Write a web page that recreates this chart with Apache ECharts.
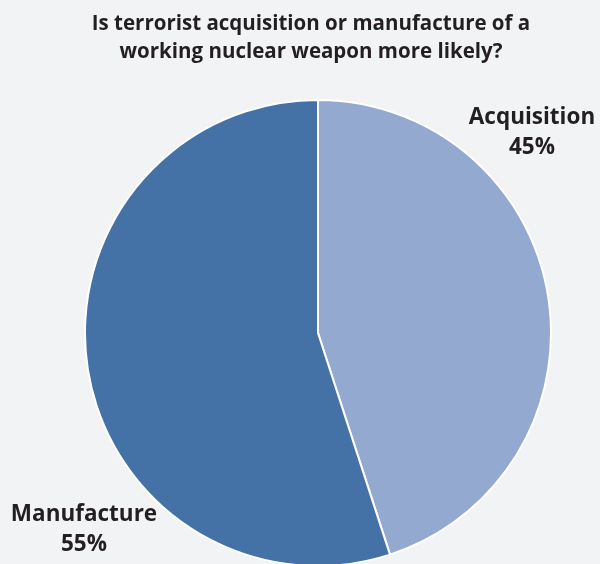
<!DOCTYPE html>
<html><head><meta charset="utf-8">
<script src="https://cdn.jsdelivr.net/npm/echarts@6/dist/echarts.min.js"></script>
<style>html,body{margin:0;padding:0;background:#f2f3f5}#c{width:600px;height:564px}</style>
</head><body><div id="c"></div>
<script>
const titleText = "Is terrorist acquisition or manufacture of a\nworking nuclear weapon more likely?";
const categories = ["Acquisition", "Manufacture"];
const values = [45, 55];
const colors = ["#94a9d0", "#4472a6"];
const labelPos = [[532, 133], [84, 530]];

const chart = echarts.init(document.getElementById('c'));
chart.setOption({
  backgroundColor: '#f2f3f5',
  animation: false,
  title: {
    text: titleText, left: 306, top: 5, textAlign: 'center',
    textStyle: { fontFamily: 'Open Sans', fontWeight: 'bold', fontSize: 20.5, lineHeight: 28, color: '#231f20' }
  },
  series: [{
    type: 'pie',
    center: [318, 333],
    radius: 233,
    startAngle: 90,
    clockwise: true,
    itemStyle: { borderColor: '#ffffff', borderWidth: 2 },
    label: {
      show: true, position: 'inside', overflow: 'none',
      formatter: p => p.name + '\n' + p.value + '%',
      fontFamily: 'Open Sans', fontWeight: 'bold', fontSize: 22.5, lineHeight: 30,
      color: '#231f20', align: 'center'
    },
    labelLine: { show: false },
    labelLayout: p => ({ x: labelPos[p.dataIndex][0], y: labelPos[p.dataIndex][1], align: 'center', verticalAlign: 'middle' }),
    data: categories.map((c, i) => ({ name: c, value: values[i], itemStyle: { color: colors[i] } }))
  }]
});
</script></body></html>
